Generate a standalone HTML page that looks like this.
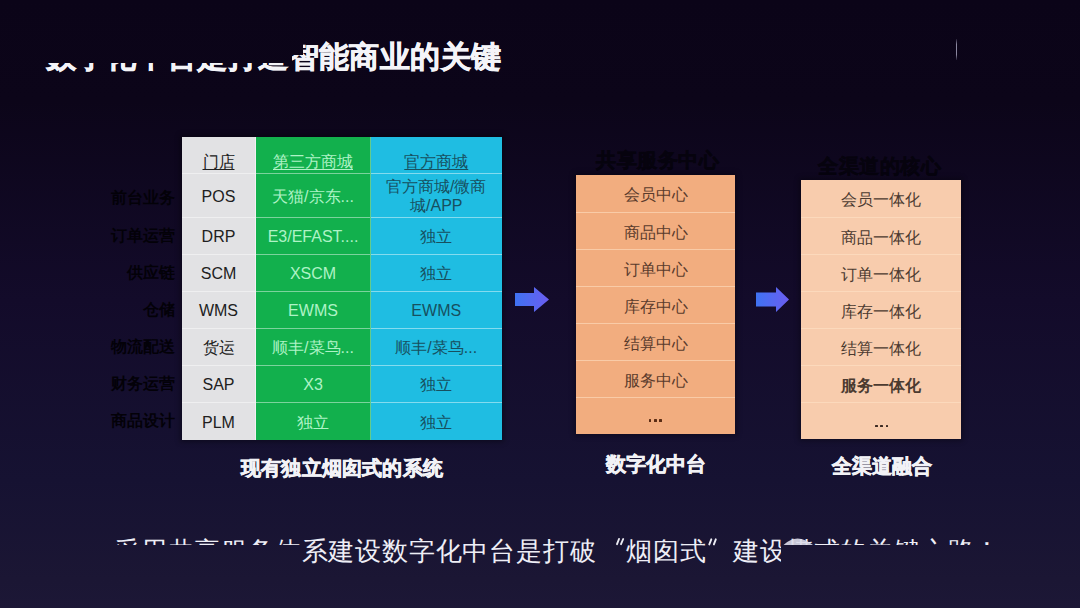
<!DOCTYPE html>
<html><head><meta charset="utf-8">
<style>
*{margin:0;padding:0;box-sizing:border-box}
html,body{width:1080px;height:608px;overflow:hidden}
body{font-family:"Liberation Sans",sans-serif;position:relative;
background:linear-gradient(180deg,#0b0418 0px,#0c0519 100px,#130b2a 300px,#161232 480px,#1b1634 580px,#1c1736 608px);}
.abs{position:absolute}
.clipT{left:0;top:0;width:1080px;height:608px;clip-path:polygon(303px 0,1080px 0,1080px 608px,0 608px,0 63px,292px 63px,292px 55px,303px 55px)}
.clipB{left:0;top:0;width:1080px;height:608px;clip-path:polygon(0 0,1080px 0,1080px 545px,781px 545px,781px 608px,301px 608px,301px 545px,0 545px)}
.title{left:45.5px;top:37px;font-size:30px;letter-spacing:0.4px;font-weight:bold;color:#f4f4f8;white-space:nowrap;line-height:40px;-webkit-text-stroke:0.7px #f4f4f8}
.q{display:inline-block;width:1em}
.mark{left:955.5px;top:39px;width:1.6px;height:21px;background:linear-gradient(180deg,rgba(120,116,140,0.2),#8a869e 25%,#8a869e 75%,rgba(120,116,140,0.2))}
.lbl{font-size:16px;line-height:20px;font-weight:bold;color:#030108;white-space:nowrap;text-align:right;width:80px;left:95px}
table{position:absolute;left:182px;top:137px;border-collapse:collapse;table-layout:fixed;box-shadow:0 0 5px 2px rgba(0,0,0,0.35)}
td{text-align:center;font-size:16px;padding:2px 0 0;line-height:19px}
td.c1{background:#e2e2e4;color:#202020;width:73.5px}
td.c2{background:#12b04d;color:#aef3c6;width:115px}
td.c3{background:#1fbde2;color:#17505f;width:131px}
tr+tr td{border-top:1.5px solid rgba(255,255,255,.45)}
td.c2{border-left:1.5px solid rgba(255,255,255,.5)}
td.c3{border-left:1px solid rgba(255,255,255,.35)}
u{text-decoration:underline;text-underline-offset:2px}
tr.h td{vertical-align:top;padding-top:14.5px}
.box{position:absolute;box-shadow:0 0 5px 2px rgba(0,0,0,0.3)}
.box div{height:37px;line-height:39px;text-align:center;font-size:16px;border-top:1.5px solid rgba(255,228,200,.55)}
.box div:first-child{border-top:none}
.mid{left:576px;top:175px;width:159px;background:#f2ad7f;color:#5a3b2c}
.rgt{left:801px;top:180px;width:160px;background:#f8ccad;color:#4b3a30}
.dots{display:inline-block;vertical-align:top;height:37px;position:relative;width:14px}
.dots b{position:absolute;top:21px;width:2.8px;height:2.6px;background:currentColor;border-radius:0.5px}
.dots b:nth-child(1){left:0}.dots b:nth-child(2){left:5.3px}.dots b:nth-child(3){left:10.6px}
.cap{font-size:20.2px;letter-spacing:0.2px;font-weight:bold;color:#f2f2f6;white-space:nowrap;-webkit-text-stroke:0.6px #f2f2f6}
.hdr{font-size:20px;letter-spacing:0.5px;font-weight:bold;color:#06030e;white-space:nowrap;-webkit-text-stroke:0.5px #06030e}
.bottom{left:114px;top:533px;font-size:26.4px;letter-spacing:0.8px;color:#eeeef6;white-space:nowrap;line-height:36px}
</style></head><body>
<div class="abs clipT"><div class="abs title">数字化中台是打造智能商业的关键</div></div>
<div class="abs mark"></div>

<div class="abs lbl" style="top:188.4px">前台业务</div>
<div class="abs lbl" style="top:225.8px">订单运营</div>
<div class="abs lbl" style="top:262.9px">供应链</div>
<div class="abs lbl" style="top:300.0px">仓储</div>
<div class="abs lbl" style="top:336.9px">物流配送</div>
<div class="abs lbl" style="top:374.0px">财务运营</div>
<div class="abs lbl" style="top:411.2px">商品设计</div>

<table>
<tr class="h" style="height:36.4px"><td class="c1"><u>门店</u></td><td class="c2"><u>第三方商城</u></td><td class="c3"><u>官方商城</u></td></tr>
<tr style="height:44px"><td class="c1">POS</td><td class="c2">天猫/京东...</td><td class="c3">官方商城/微商<br>城/APP</td></tr>
<tr style="height:36.8px"><td class="c1">DRP</td><td class="c2">E3/EFAST....</td><td class="c3">独立</td></tr>
<tr style="height:37.3px"><td class="c1">SCM</td><td class="c2">XSCM</td><td class="c3">独立</td></tr>
<tr style="height:36.9px"><td class="c1">WMS</td><td class="c2">EWMS</td><td class="c3">EWMS</td></tr>
<tr style="height:36.9px"><td class="c1">货运</td><td class="c2">顺丰/菜鸟...</td><td class="c3">顺丰/菜鸟...</td></tr>
<tr style="height:37.4px"><td class="c1">SAP</td><td class="c2">X3</td><td class="c3">独立</td></tr>
<tr style="height:37px"><td class="c1">PLM</td><td class="c2">独立</td><td class="c3">独立</td></tr>
</table>

<svg class="abs" style="left:514px;top:286px" width="36" height="28" viewBox="0 0 36 28">
<defs><linearGradient id="ag" x1="0" x2="1"><stop offset="0" stop-color="#3f73f2"/><stop offset="1" stop-color="#6b5df0"/></linearGradient></defs>
<path d="M1 7H20V1L35 13.5L20 26V20H1Z" fill="url(#ag)"/></svg>
<svg class="abs" style="left:755px;top:286px" width="36" height="28" viewBox="0 0 36 28">
<path d="M1 6.5H21V1L34 13.5L21 26V20.5H1Z" fill="url(#ag)"/></svg>

<div class="abs hdr" style="left:596px;top:147px">共享服务中心</div>
<div class="abs hdr" style="left:818px;top:153px">全渠道的核心</div>

<div class="box mid">
<div>会员中心</div><div>商品中心</div><div>订单中心</div><div>库存中心</div><div>结算中心</div><div>服务中心</div><div><i class="dots" style="color:#5a2c14"><b></b><b></b><b></b></i></div>
</div>
<div class="box rgt">
<div>会员一体化</div><div>商品一体化</div><div>订单一体化</div><div>库存一体化</div><div>结算一体化</div><div style="font-weight:bold">服务一体化</div><div><i class="dots" style="color:#3c2a22;left:1px;top:0.5px"><b></b><b></b><b></b></i></div>
</div>

<div class="abs cap" style="left:241px;top:455px">现有独立烟囱式的系统</div>
<div class="abs cap" style="left:605.5px;top:451px">数字化中台</div>
<div class="abs cap" style="left:831.5px;top:452.5px">全渠道融合</div>

<div class="abs clipB"><div class="abs bottom">采用共享服务体系建设数字化中台是打破<span class="q" style="width:30px"></span>烟囱式<span class="q"></span>建设模式的关键之路！</div></div>
<svg class="abs" style="left:0;top:0" width="1080" height="608"><path d="M783.5 545Q797 532 813 545Z" fill="#dcdcea" fill-opacity="0.9"/></svg>
<svg class="abs" style="left:0;top:0" width="1080" height="608"><g stroke="#ececf4" stroke-width="1.9" stroke-linecap="round" fill="none">
<path d="M617 544.2L619 539M621 544.2L623.2 539"/><path d="M709.3 544.4L711.3 539.3M713.9 544.4L715.8 539.3"/></g></svg>
</body></html>
